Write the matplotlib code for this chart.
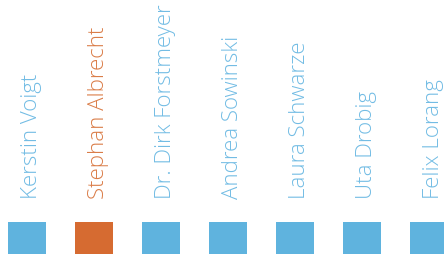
import matplotlib.pyplot as plt

names = ['Kerstin Voigt', 'Stephan Albrecht', 'Dr. Dirk Forstmeyer', 'Andrea Sowinski',
         'Laura Schwarze', 'Uta Drobig', 'Felix Lorang']
highlight = 'Stephan Albrecht'

blue = '#5fb3de'
orange = '#d66b31'
blue_txt = '#72bce4'
orange_txt = '#da7c47'

fig = plt.figure(figsize=(4.44, 2.55), dpi=100)
ax = fig.add_axes([0, 0, 1, 1])

x = list(range(len(names)))
colors = [orange if n == highlight else blue for n in names]
ax.bar(x, [32] * len(names), width=0.567, bottom=0, color=colors, linewidth=0)

for i, n in enumerate(names):
    c = orange_txt if n == highlight else blue_txt
    ax.text(i + 0.06, 56, n, rotation=90, ha='center', va='bottom',
            fontsize=16, family=['Open Sans', 'DejaVu Sans'], fontweight='light', color=c)

ax.set_xlim(-27 / 67, (444 - 27) / 67)
ax.set_ylim(0, 255)
ax.axis('off')

fig.savefig('out.png', dpi=100)
